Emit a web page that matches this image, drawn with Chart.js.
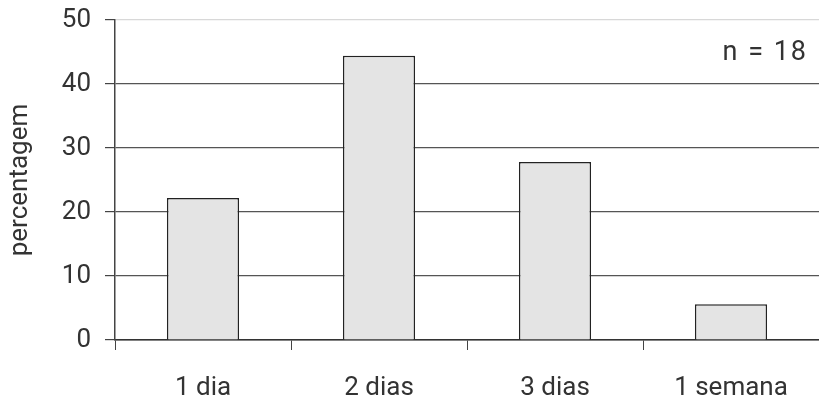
<!DOCTYPE html>
<html>
<head>
<meta charset="utf-8">
<script src="https://cdn.jsdelivr.net/npm/chart.js@4"></script>
<style>
  html, body { margin: 0; padding: 0; background: #fff; overflow: hidden; }
  #wrap { position: relative; width: 819px; height: 412px; }
</style>
</head>
<body>
<div id="wrap"><canvas id="chart" width="819" height="412"></canvas></div>
<script>
// data (n = 18, so steps of 5.56 %)
var categories = ["1 dia", "2 dias", "3 dias", "1 semana"];
var percentValues = [22.2, 44.4, 27.8, 5.6];
var yTicks = [0, 10, 20, 30, 40, 50];
var noteText = "n = 18";

var fontFam = "Roboto, sans-serif";

// draws the n = 18 note top right
var notePlugin = {
    id: 'note',
    afterDraw: function(chart) {
        var ctx = chart.ctx;
        ctx.save();
        ctx.font = "27px " + fontFam;
        ctx.letterSpacing = "2px";
        ctx.fillStyle = "#333";
        ctx.textAlign = "right";
        ctx.textBaseline = "middle";
        ctx.fillText(noteText, 808, 53);
        ctx.restore();
    }
};

var myChart = new Chart(document.getElementById("chart").getContext('2d'), {
    type: 'bar',
    data: {
        labels: categories,
        datasets: [{
            label: 'percentagem',
            data: percentValues,
            backgroundColor: '#e4e4e4',
            borderColor: '#222',
            borderWidth: 1.5,
            categoryPercentage: 1,
            barPercentage: 0.41
        }]
    },
    options: {
        responsive: false,
        animation: false,
        layout: { padding: { top: 20, right: 0, left: 0, bottom: 0 } },
        plugins: {
            legend: { display: false },
            tooltip: { enabled: false }
        },
        scales: {
            x: {
                offset: true,
                grid: {
                    offset: true,
                    drawOnChartArea: false,
                    drawTicks: true,
                    tickLength: 10,
                    color: '#444'
                },
                border: { color: '#333', width: 1.5 },
                ticks: {
                    color: '#333',
                    font: { size: 26, family: fontFam },
                    padding: 23,
                    maxRotation: 0
                },
                afterFit: function(scale) {
                    scale.height = 72;
                    scale.paddingLeft = 0;
                    scale.paddingRight = 0;
                }
            },
            y: {
                min: 0,
                max: 50,
                afterBuildTicks: function(scale) {
                    scale.ticks = yTicks.map(function(v) { return { value: v }; });
                },
                grid: {
                    color: function(c) {
                        return c.tick && c.tick.value === 50 ? '#d8d8d8' : '#555';
                    },
                    tickColor: '#444',
                    tickLength: 10,
                    lineWidth: 1.2
                },
                border: { color: '#444', width: 1.5 },
                ticks: {
                    color: '#333',
                    font: { size: 26, family: fontFam },
                    padding: 14
                },
                title: {
                    display: true,
                    text: 'percentagem',
                    color: '#333',
                    font: { size: 26, family: fontFam },
                    padding: { top: 5, bottom: 0 }
                },
                afterFit: function(scale) {
                    scale.width = 115;
                    scale.paddingTop = 0;
                    scale.paddingBottom = 0;
                }
            }
        }
    },
    plugins: [notePlugin]
});
</script>
</body>
</html>
